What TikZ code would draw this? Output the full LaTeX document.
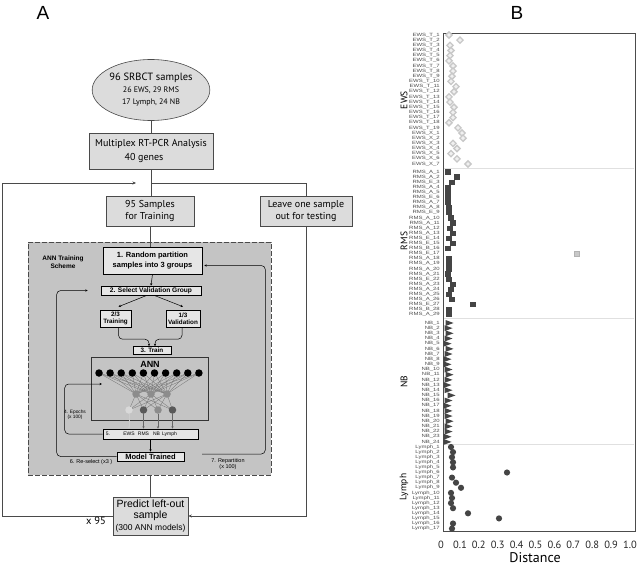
\documentclass[tikz,border=0pt]{standalone}
\usepackage{fontspec}
\setmainfont{PT Sans}
\newfontfamily\arialf{Liberation Sans}
\usetikzlibrary{shapes.geometric,arrows.meta,calc}
\newcommand\myfs[2]{\fontsize{#1}{#2}\selectfont}
\newcommand\rowl[1]{\scalebox{1.3}[1]{#1}}
\definecolor{boxgray}{HTML}{DCDCDC}
\definecolor{schemegray}{HTML}{C4C4C4}
\definecolor{innergray}{HTML}{E6E6E6}
\definecolor{linegray}{HTML}{4A4A4A}
\definecolor{ptdark}{HTML}{454545}
\definecolor{ptlight}{HTML}{C8C8C8}
\begin{document}
\begin{tikzpicture}[x=1pt,y=-1pt,
  mainbox/.style={draw=linegray, fill=boxgray, line width=0.6pt, inner sep=0pt, align=center},
  ibox/.style={draw=black, fill=innergray, line width=0.6pt, inner sep=0pt, align=center, font=\arialf\bfseries\myfs{7}{8}},
  conn/.style={draw=linegray, line width=0.6pt},
  arr/.style={conn, -{Stealth[length=3.5pt,width=3pt]}},
  iconn/.style={draw=black, line width=0.5pt},
  iarr/.style={iconn, -{Stealth[length=2.5pt,width=2.2pt]}},
  tiny/.style={font=\arialf\myfs{5}{6}, align=center, inner sep=0pt},
  neuron/.style={circle, inner sep=0pt, minimum size=7.5pt},
  rowlbl/.style={font=\arialf\myfs{4.6}{5}, text=black!70, anchor=east, inner sep=0pt},
  grplbl/.style={font=\myfs{9.5}{10}, rotate=90, inner sep=0pt},
  ticklbl/.style={font=\myfs{10.5}{12}, text=black!85, inner sep=0pt}
]
\useasboundingbox[fill=white] (0,0) rectangle (640,567);

% ---------------- Panel A ----------------
\node[font=\arialf\myfs{19}{20}] (lblA) at (43,13) {A};
\node[font=\arialf\myfs{19}{20}] (lblB) at (517,13) {B};

\node[ellipse, draw=linegray, fill=boxgray, line width=0.6pt, minimum width=107pt, minimum height=61pt, inner sep=0pt, align=center] (ell) at (151,90)
  {{\myfs{10.5}{12}96 SRBCT samples}\\{\myfs{8}{10}26 EWS, 29 RMS}\\{\myfs{8}{10}17 Lymph, 24 NB}};

\node[mainbox, minimum width=124pt, minimum height=36pt, font=\myfs{10}{14}] (mult) at (151,151)
  {Multiplex RT-PCR Analysis\\40 genes\hspace*{14pt}};

\node[mainbox, minimum width=88pt, minimum height=30pt, font=\myfs{10}{12.5}] (s95) at (150,211) {95 Samples\\for Training};
\node[mainbox, minimum width=92pt, minimum height=30pt, font=\myfs{10}{12.5}] (leave) at (306,211) {Leave one sample\\out for testing};

\node[draw=linegray, dash pattern=on 5pt off 2pt, fill=schemegray, line width=0.8pt, minimum width=243pt, minimum height=233pt, inner sep=0pt] (scheme) at (149.5,358.5) {};

\node[mainbox, minimum width=75pt, minimum height=38pt, font=\arialf\myfs{10.5}{11.5}] (pred) at (150.5,516)
  {Predict left-out\\sample\\{\myfs{8.5}{10}(300 ANN models)}};

\coordinate (j) at (151,183);
\coordinate (lft) at (2,183);
\coordinate (jin) at (136,183);
\draw[conn] (ell.south) -- (mult.north);
\draw[conn] (mult.south) -- (mult.south |- s95.north);
\draw[conn] (j) -| (leave.north);
\draw[arr] (pred.west) -| (lft) -- (jin);
\draw[arr] (leave.south) |- (pred.east);
\node[font=\myfs{10.5}{12}] (x95) at (96,521) {x 95};

% inner scheme
\node[font=\arialf\bfseries\myfs{6.5}{8}, align=center] (schlbl) at (63,262) {ANN Training\\Scheme};
\node[ibox, minimum width=99pt, minimum height=27pt, font=\arialf\bfseries\myfs{7.5}{10}] (p1) at (152.5,260.5) {1. Random partition\\samples into 3 groups};
\draw[conn] (s95.south) -- (s95.south |- p1.north);
\draw[conn] (pred.north) -- (pred.north |- scheme.south);

\node[ibox, minimum width=100pt, minimum height=9pt, font=\arialf\bfseries\myfs{6.6}{8}] (p2) at (151,290.5) {2. Select Validation Group};
\node[ibox, minimum width=31pt, minimum height=17pt, font=\arialf\bfseries\myfs{6.3}{7}] (tr) at (115.5,318.5) {2/3\\Training};
\node[ibox, minimum width=34pt, minimum height=17pt, font=\arialf\bfseries\myfs{6.3}{7}] (va) at (183,318.5) {1/3\\Validation};
\node[ibox, minimum width=38pt, minimum height=8pt, font=\arialf\bfseries\myfs{6.3}{7}] (t3) at (152,350.5) {3. Train};
\node[draw=black!80, fill=schemegray, line width=0.6pt, minimum width=117pt, minimum height=63pt, inner sep=0pt] (ann) at (149.5,388.5) {};
\node[font=\arialf\bfseries\myfs{9}{10}, inner sep=0pt] (annl) at (150,364) {ANN};
\node[ibox, minimum width=95pt, minimum height=10pt] (out5) at (150.5,434) {};
\node[ibox, minimum width=67pt, minimum height=9pt, font=\arialf\bfseries\myfs{7.5}{8}] (model) at (150.5,456.5) {Model Trained};

\draw[iarr] (p1.south) -- (p2.north);
\draw[iarr] ([xshift=-4pt]p2.south) -- ([xshift=3pt,yshift=3pt]tr.north);
\draw[iarr] ([xshift=3pt]p2.south) -- ([xshift=0pt,yshift=3pt]va.north);
\draw[iarr, rounded corners=4pt] ([xshift=3pt]tr.south) |- ($(t3.north)+(-3,-7)$) -- ([xshift=-3pt]t3.north);
\draw[iarr, rounded corners=4pt] ([xshift=-1pt]va.south) |- ($(t3.north)+(3,-7)$) -- ([xshift=3pt]t3.north);
\draw[iarr] (out5.south) -- (model.north);

% network
\foreach \i in {1,...,10} \coordinate (in\i) at ({99+(\i-1)*11.1},373);
\coordinate (h1) at (136,394); \coordinate (h2) at (151,394); \coordinate (h3) at (167,394);
\coordinate (o1) at (129,410); \coordinate (o2) at (143.5,410); \coordinate (o3) at (158,410); \coordinate (o4) at (172.5,410);
\foreach \i in {1,...,10} \foreach \h in {1,2,3} \draw[black!55, line width=0.3pt] (in\i) -- (h\h);
\foreach \h in {1,2,3} \foreach \o in {1,2,3,4} \draw[black!55, line width=0.3pt] (h\h) -- (o\o);
\foreach \i in {1,...,10} \node[neuron, fill=black] (nin\i) at (in\i) {};
\foreach \h in {1,2,3} \node[neuron, fill=black!45] (nh\h) at (h\h) {};
\node[neuron, fill=black!15] (no1) at (o1) {};
\node[neuron, fill=black!65] (no2) at (o2) {};
\node[neuron, fill=black!45] (no3) at (o3) {};
\node[neuron, fill=black!65] (no4) at (o4) {};
\draw[iarr, draw=black!20] (no1.south) -- (no1.south |- out5.north);
\foreach \o in {2,3,4} \draw[iarr, draw=black!60] (no\o.south) -- (no\o.south |- out5.north);

\node[tiny] (l5) at (108,434) {5.};
\node[tiny] (lews) at (129,434) {EWS};
\node[tiny] (lrms) at (143.5,434) {RMS};
\node[tiny] (lnb) at (156.5,434) {NB};
\node[tiny] (lly) at (169.5,434) {Lymph};

% loops
\draw[iarr, rounded corners=4pt] (out5.west) -| ([xshift=-38pt]out5.west |- 0,384) -- (102,384);
\node[tiny, font=\arialf\myfs{4.8}{5.5}] (epl) at (75,415) {4. Epochs\\(x 100)};
\draw[iarr, rounded corners=4pt] (model.west) -| ([xshift=-44pt]p2.west) -- ([xshift=-13pt]p2.west);
\node[tiny, font=\arialf\myfs{5.5}{6}] (rsl) at (91,462) {6. Re-select (x3 )};
\coordinate (rp0) at (202,454);
\draw[iarr, rounded corners=4pt] (rp0) -| ([xshift=63pt,yshift=-5pt]p1.east) -- ([xshift=2pt,yshift=-5pt]p1.east);
\node[tiny, font=\arialf\myfs{5.5}{6.5}] (rpl) at (228,464) {7. Repartition\\(x 100)};

% ---------------- Panel B ----------------
\draw[black!70, line width=0.7pt] (443,33) rectangle (635,531);
\draw[black!12, line width=0.5pt] (444,168.5) -- (634,168.5);
\draw[black!12, line width=0.5pt] (444,318.5) -- (634,318.5);
\draw[black!12, line width=0.5pt] (444,444.5) -- (634,444.5);

\node[grplbl] at (404,100) {EWS};
\node[grplbl] at (404,241) {RMS};
\node[grplbl] at (404,382) {NB};
\node[grplbl] at (404,487) {Lymph};

% EWS
\foreach \i in {1,...,19} \node[rowlbl] at (440,{35+(\i-1)*5.16}) {\rowl{EWS\_T\_\i}};
\foreach \i in {1,...,7} \node[rowlbl] at (440,{35+(\i+18)*5.16}) {\rowl{EWS\_X\_\i}};
\foreach \x [count=\i] in {449,460,450,451,450,449,453,453,452,451,456,454,449,450,454,453,453,449,458,462,463,453,457,451,457,468}
  \node[diamond, draw=ptlight, fill=black!6, line width=1.3pt, minimum size=6.8pt, inner sep=0pt] at (\x,{35+(\i-1)*5.16}) {};

% RMS
\foreach \l/\x [count=\i] in {A/448,A/457,E/452,A/448,A/448,E/448,A/448,A/449,E/449,A/451,A/453,A/450,A/453,E/449,E/453,B/448,E/577,A/449,A/449,A/449,A/448,E/449,A/453,A/451,A/449,A/452,E/473,B/449,A/449}
{
  \node[rowlbl] at (440,{172+(\i-1)*5.1}) {\rowl{RMS\_\l\_\i}};
  \ifnum\i=17
    \fill[ptlight, draw=black!30, line width=0.3pt] ({\x-2.5},{172+(\i-1)*5.1-2.5}) rectangle ++(5,5);
  \else
    \fill[ptdark] ({\x-2.6},{172+(\i-1)*5.1-2.6}) rectangle ++(5.2,5.2);
  \fi
}

% NB
\foreach \x [count=\i] in {449,448,449,448,447,449,448,447,447,448,449,448,447,448,451,448,447,448,448,449,448,448,447,447}
{
  \node[rowlbl] at (440,{323+(\i-1)*5.17}) {\rowl{NB\_\i}};
  \fill[ptdark] ({\x-3.5},{323+(\i-1)*5.17-3}) -- ({\x+4.5},{323+(\i-1)*5.17}) -- ({\x-3.5},{323+(\i-1)*5.17+3}) -- cycle;
}

% Lymph
\foreach \x [count=\i] in {451,453,452,453,453,507,452,456,461,451,452,451,453,468,499,453,452}
{
  \node[rowlbl] at (440,{447+(\i-1)*5.1}) {\rowl{Lymph\_\i}};
  \fill[ptdark] (\x,{447+(\i-1)*5.1}) circle (3.1);
}

% axis
\foreach \v/\t in {0/0,0.1/0.1,0.2/0.2,0.3/0.3,0.4/0.4,0.5/0.5,0.6/0.6,0.7/0.7,0.8/0.8,0.9/0.9,1.0/1.0}
  \node[ticklbl] at ({441+189*\v},545) {\t};
\node[font=\myfs{14}{16}, inner sep=0pt] (dist) at (535,557.5) {Distance};
\end{tikzpicture}
\end{document}
